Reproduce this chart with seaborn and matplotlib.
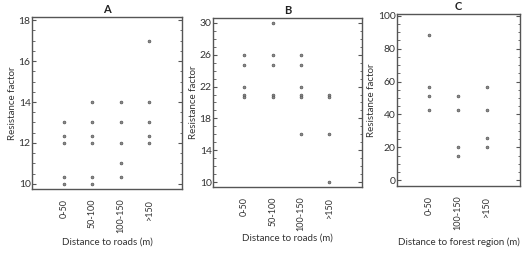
import numpy as np
import pandas as pd
import matplotlib
matplotlib.use('Agg')
import matplotlib.pyplot as plt
import seaborn as sns

# Panel data
road_bins = ['0-50', '50-100', '100-150', '>150']
forest_bins = ['0-50', '100-150', '>150']

a_0_50 = [13, 12.33, 12, 10.33, 10]
a_50_100 = [14, 13, 12.33, 12, 10.33, 10]
a_100_150 = [14, 13, 12, 11, 10.33]
a_gt150 = [17, 14, 13, 12.33, 12]

b_0_50 = [26, 24.7, 22, 21.0, 20.7]
b_50_100 = [30, 26, 24.7, 21.0, 20.7]
b_100_150 = [26, 24.7, 22, 21.0, 20.7, 16]
b_gt150 = [21.0, 20.7, 16, 10]

c_0_50 = [88, 56.5, 51, 42.5]
c_100_150 = [51, 42.5, 20.2, 14.8]
c_gt150 = [56.5, 42.5, 25.7, 20.2]

a_ticks = [10, 12, 14, 16, 18]
b_ticks = [10, 14, 18, 22, 26, 30]
c_ticks = [0, 20, 40, 60, 80, 100]


def long_df(bins, groups):
    rows = []
    for b, vals in zip(bins, groups):
        for v in vals:
            rows.append({'bin': b, 'value': v})
    return pd.DataFrame(rows)


df_a = long_df(road_bins, [a_0_50, a_50_100, a_100_150, a_gt150])
df_b = long_df(road_bins, [b_0_50, b_50_100, b_100_150, b_gt150])
df_c = long_df(forest_bins, [c_0_50, c_100_150, c_gt150])

sns.set_style('white')
plt.rcParams['font.family'] = ['Lato', 'DejaVu Sans']
text_col = '#333333'
edge_col = '#555555'

fig = plt.figure(figsize=(5.28, 2.57), dpi=100)
ax_a = fig.add_axes([0.0606, 0.2646, 0.2841, 0.669])
ax_b = fig.add_axes([0.4034, 0.2724, 0.2822, 0.6576])
ax_c = fig.add_axes([0.7519, 0.2763, 0.2330, 0.669])

panels = [
    (ax_a, df_a, road_bins, 'A', 'Distance to roads (m)', (9.75, 18.15), a_ticks, 4, (-1.12, 4.14), -0.285),
    (ax_b, df_b, road_bins, 'B', 'Distance to roads (m)', (9.4, 30.6), b_ticks, 4, (-1.1, 4.15), -0.278),
    (ax_c, df_c, forest_bins, 'C', 'Distance to forest region (m)', (-3.5, 101), c_ticks, 4, (-1.1, 3.14), -0.297),
]

for ax, d, order, title, xlabel, ylim, ticks, nsub, xlim, xlab_y in panels:
    sns.stripplot(data=d, x='bin', y='value', order=order, jitter=False, ax=ax,
                  color='#8a8a8a', edgecolor='#555555', linewidth=0.5, size=2.0)
    ax.set_ylim(*ylim)
    ax.set_xlim(*xlim)
    ax.set_yticks(ticks)
    step = (ticks[1] - ticks[0]) / nsub
    ax.set_yticks(np.arange(ticks[0], ticks[-1] + step / 2, step), minor=True)
    ax.tick_params(axis='y', which='both', direction='in', left=True, right=True,
                   labelsize=7.5, colors=edge_col, labelcolor=text_col, pad=1)
    ax.tick_params(axis='y', which='major', length=3, width=0.8)
    ax.tick_params(axis='y', which='minor', length=1.8, width=0.6)
    ax.tick_params(axis='x', which='both', bottom=False, top=False,
                   labelsize=6.5, labelcolor=text_col, labelrotation=90, pad=3.5)
    for s in ax.spines.values():
        s.set_visible(True)
        s.set_color(edge_col)
        s.set_linewidth(1.0)
    ax.set_title(title, fontsize=8, fontweight='bold', color='#222222', pad=3)
    ax.set_xlabel(xlabel, fontsize=7, color=text_col)
    ax.xaxis.set_label_coords(0.5, xlab_y)
    ax.set_ylabel('Resistance factor', fontsize=7, color=text_col, labelpad=1)

fig.savefig('out.png', dpi=100)
